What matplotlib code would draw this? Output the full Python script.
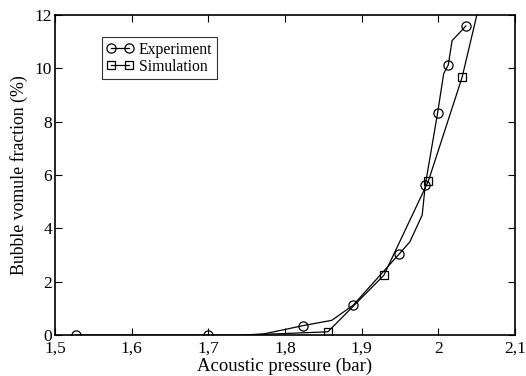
import matplotlib
matplotlib.use("Agg")
import matplotlib.pyplot as plt
from matplotlib.ticker import FuncFormatter

plt.rcParams['font.family'] = ['Liberation Serif', 'DejaVu Serif']

# Experiment (markers on the measured points, plain line points in between)
exp_x = [1.527, 1.700, 1.745, 1.772, 1.802, 1.823, 1.861, 1.889, 1.949, 1.963, 1.979, 1.983, 1.999, 2.007, 2.013, 2.018, 2.036]
exp_y = [0.0, 0.0, 0.0, 0.04, 0.22, 0.35, 0.55, 1.12, 3.04, 3.5, 4.5, 5.62, 8.31, 9.8, 10.13, 11.04, 11.59]
exp_marks = [0, 1, 5, 7, 8, 11, 12, 14, 16]

# Simulation
sim_x = [1.75, 1.856, 1.929, 1.987, 2.031, 2.07]
sim_y = [0.0, 0.12, 2.24, 5.77, 9.66, 14.4]
sim_marks = [1, 2, 3, 4]

xticks = [1.5, 1.6, 1.7, 1.8, 1.9, 2.0, 2.1]
yticks = [0, 2, 4, 6, 8, 10, 12]

fig = plt.figure(figsize=(5.26, 3.76), dpi=100)
ax = fig.add_axes([0.1046, 0.109, 0.8744, 0.851])

ax.plot(exp_x, exp_y, color='black', lw=0.9, marker='o', ms=6.6, mfc='none',
        mec='black', mew=0.9, markevery=exp_marks, label='Experiment')
ax.plot(sim_x, sim_y, color='black', lw=0.9, marker='s', ms=5.4, mfc='none',
        mec='black', mew=0.9, markevery=sim_marks, label='Simulation')

ax.set_xlim(1.5, 2.1)
ax.set_ylim(0, 12)
ax.set_xticks(xticks)
ax.set_yticks(yticks)
ax.xaxis.set_major_formatter(FuncFormatter(lambda v, p: ('%g' % round(v, 2)).replace('.', ',')))
ax.tick_params(direction='in', top=True, right=True, length=5, width=0.8, labelsize=12.5)
ax.tick_params(axis='x', pad=4)
ax.tick_params(axis='y', pad=2)
for s in ax.spines.values():
    s.set_linewidth(1.2)

ax.set_xlabel('Acoustic pressure (bar)', fontsize=13.5, labelpad=1)
ax.set_ylabel('Bubble vomule fraction (%)', fontsize=12.8, labelpad=5)

leg = ax.legend(loc='upper left', bbox_to_anchor=(0.1015, 0.931), fontsize=11.3, frameon=True,
                fancybox=False, edgecolor='black', numpoints=2, handlelength=1.73,
                handletextpad=0.34, borderpad=0.3, labelspacing=0.05, borderaxespad=0)
leg.get_frame().set_linewidth(0.8)

fig.savefig('out.png', dpi=100)
